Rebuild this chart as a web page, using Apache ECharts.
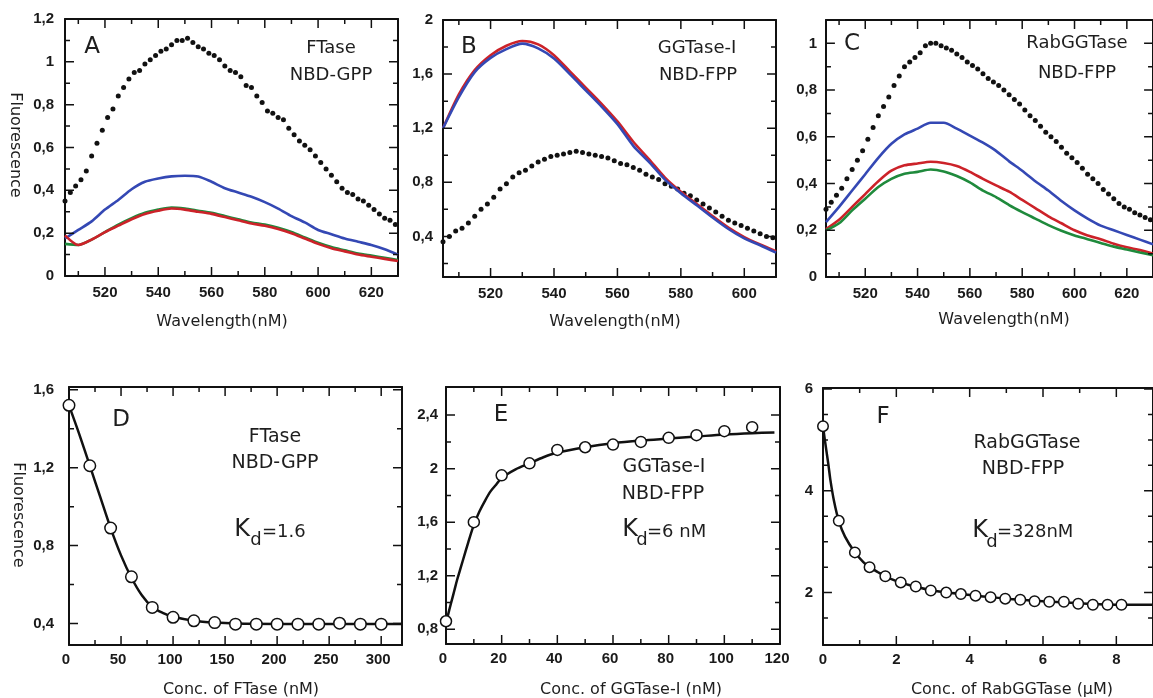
<!DOCTYPE html>
<html>
<head>
<meta charset="utf-8">
<script src="https://cdn.jsdelivr.net/npm/echarts@6/dist/echarts.min.js"></script>
<style>
  html, body { margin: 0; padding: 0; background: #fff; }
  #chart { width: 1153px; height: 698px; }
</style>
</head>
<body>
<div id="chart"></div>
<script>
// ---- data ----
// emission spectra, dotted series sampled every 2 nm
const dotWaveAC = [505,507,509,511,513,515,517,519,521,523,525,527,529,531,533,535,537,539,541,543,545,547,549,551,553,555,557,559,561,563,565,567,569,571,573,575,577,579,581,583,585,587,589,591,593,595,597,599,601,603,605,607,609,611,613,615,617,619,621,623,625,627,629];
const dotWaveB = [505,507,509,511,513,515,517,519,521,523,525,527,529,531,533,535,537,539,541,543,545,547,549,551,553,555,557,559,561,563,565,567,569,571,573,575,577,579,581,583,585,587,589,591,593,595,597,599,601,603,605,607,609];
const lineWaveAC = [505,510,515,520,525,530,535,540,545,550,555,560,565,570,575,580,585,590,595,600,605,610,615,620,625,630];
const lineWaveB = [505,510,515,520,525,530,535,540,545,550,555,560,565,570,575,580,585,590,595,600,605,610];

// A: FTase / NBD-GPP
const aBlack = [0.35,0.39,0.42,0.45,0.49,0.56,0.62,0.68,0.74,0.78,0.84,0.88,0.92,0.95,0.96,0.99,1.01,1.03,1.05,1.06,1.08,1.10,1.10,1.11,1.09,1.07,1.06,1.04,1.03,1.01,0.98,0.96,0.95,0.93,0.89,0.88,0.84,0.81,0.77,0.76,0.74,0.73,0.69,0.66,0.63,0.61,0.59,0.56,0.53,0.50,0.47,0.44,0.41,0.39,0.38,0.36,0.35,0.33,0.31,0.29,0.27,0.26,0.24];
const aBlue = [0.175,0.215,0.255,0.31,0.355,0.405,0.44,0.455,0.465,0.468,0.465,0.44,0.41,0.39,0.37,0.345,0.315,0.28,0.25,0.215,0.195,0.175,0.16,0.145,0.125,0.1];
const aGreen = [0.15,0.145,0.17,0.205,0.24,0.27,0.295,0.31,0.32,0.315,0.305,0.295,0.28,0.265,0.25,0.24,0.225,0.205,0.18,0.155,0.135,0.12,0.105,0.095,0.085,0.075];
const aRed = [0.19,0.145,0.17,0.205,0.235,0.265,0.29,0.305,0.315,0.31,0.3,0.29,0.275,0.26,0.245,0.235,0.22,0.2,0.175,0.15,0.13,0.115,0.1,0.09,0.08,0.07];

// B: GGTase-I / NBD-FPP
const bBlack = [0.36,0.40,0.44,0.46,0.50,0.55,0.60,0.64,0.69,0.75,0.79,0.84,0.87,0.89,0.92,0.95,0.97,0.99,1.00,1.01,1.02,1.03,1.02,1.01,1.00,0.99,0.98,0.96,0.94,0.93,0.91,0.89,0.86,0.84,0.82,0.79,0.77,0.75,0.72,0.70,0.67,0.64,0.61,0.58,0.55,0.52,0.50,0.48,0.46,0.44,0.42,0.40,0.39];
const bRed = [1.2,1.45,1.63,1.74,1.81,1.845,1.82,1.74,1.62,1.5,1.38,1.25,1.1,0.97,0.835,0.73,0.64,0.55,0.465,0.395,0.34,0.29];
const bBlue = [1.2,1.43,1.615,1.72,1.785,1.825,1.79,1.715,1.6,1.48,1.36,1.23,1.07,0.95,0.82,0.72,0.63,0.54,0.455,0.385,0.335,0.28];

// C: RabGGTase / NBD-FPP
const cBlack = [0.29,0.32,0.35,0.38,0.42,0.46,0.50,0.54,0.59,0.64,0.69,0.73,0.77,0.82,0.86,0.90,0.92,0.94,0.96,0.99,1.00,1.00,0.99,0.98,0.97,0.955,0.94,0.92,0.905,0.89,0.87,0.85,0.835,0.82,0.80,0.78,0.76,0.74,0.715,0.69,0.67,0.645,0.62,0.60,0.58,0.555,0.53,0.51,0.49,0.465,0.44,0.42,0.40,0.375,0.355,0.335,0.315,0.30,0.29,0.275,0.265,0.255,0.245];
const cBlue = [0.235,0.30,0.37,0.44,0.51,0.57,0.61,0.635,0.66,0.66,0.635,0.605,0.575,0.54,0.495,0.455,0.41,0.37,0.325,0.285,0.25,0.22,0.2,0.18,0.16,0.14];
const cRed = [0.205,0.245,0.30,0.355,0.41,0.455,0.478,0.486,0.493,0.488,0.475,0.45,0.42,0.392,0.365,0.33,0.295,0.26,0.23,0.2,0.178,0.162,0.142,0.127,0.115,0.1];
const cGreen = [0.2,0.23,0.285,0.335,0.385,0.42,0.442,0.45,0.46,0.452,0.432,0.405,0.37,0.342,0.308,0.278,0.25,0.222,0.198,0.178,0.162,0.146,0.13,0.118,0.105,0.093];

// D: titration FTase (nM)
const concD = [0,20,40,60,80,100,120,140,160,180,200,220,240,260,280,300];
const fluorD = [1.52,1.21,0.89,0.64,0.483,0.432,0.414,0.405,0.397,0.397,0.397,0.397,0.397,0.402,0.397,0.397];
const fitDx = [0,10,20,30,40,50,60,70,80,90,100,120,140,160,200,240,280,320];
const fitDy = [1.52,1.37,1.21,1.05,0.89,0.75,0.635,0.545,0.485,0.455,0.435,0.415,0.405,0.4,0.398,0.398,0.398,0.398];

// E: titration GGTase-I (nM)
const concE = [0,10,20,30,40,50,60,70,80,90,100,110];
const fluorE = [0.86,1.60,1.95,2.04,2.14,2.16,2.18,2.20,2.23,2.25,2.28,2.31];
const fitEx = [0,1,2,3,4,5,6,8,10,12,14,16,18,20,25,30,35,40,50,60,70,80,90,100,110,118];
const fitEy = [0.84,0.93,1.01,1.09,1.17,1.24,1.31,1.45,1.58,1.68,1.76,1.83,1.88,1.93,1.995,2.04,2.085,2.12,2.16,2.19,2.21,2.225,2.24,2.255,2.265,2.27];

// F: titration RabGGTase (uM)
const concF = [0,0.43,0.87,1.27,1.7,2.12,2.53,2.94,3.36,3.76,4.16,4.57,4.97,5.38,5.77,6.17,6.57,6.96,7.36,7.76,8.14];
const fluorF = [5.27,3.41,2.79,2.50,2.32,2.20,2.12,2.04,2.00,1.97,1.94,1.91,1.88,1.86,1.83,1.82,1.82,1.78,1.76,1.76,1.76];
const fitFx = [0,0.05,0.1,0.15,0.2,0.3,0.43,0.6,0.87,1.1,1.27,1.5,1.7,2.1,2.5,3.0,3.4,4.2,5.0,6.0,7.0,8.14,9.0];
const fitFy = [5.27,5.0,4.75,4.5,4.22,3.8,3.41,3.1,2.79,2.6,2.5,2.4,2.32,2.2,2.12,2.04,2.0,1.94,1.88,1.83,1.79,1.76,1.76];

// tick values (labelled = major)
const ticksWaveAC = [520,540,560,580,600,620], minorWaveAC = [510,530,550,570,590,610];
const ticksWaveB = [520,540,560,580,600], minorWaveB = [510,530,550,570,590];
const ticksA_y = [0,0.2,0.4,0.6,0.8,1.0,1.2], minorA_y = [0.1,0.3,0.5,0.7,0.9,1.1];
const ticksB_y = [0.4,0.8,1.2,1.6,2.0], minorB_y = [0.2,0.6,1.0,1.4,1.8];
const ticksC_y = [0,0.2,0.4,0.6,0.8,1.0], minorC_y = [0.1,0.3,0.5,0.7,0.9];
const ticksD_x = [0,50,100,150,200,250,300], minorD_x = [25,75,125,175,225,275];
const ticksD_y = [0.4,0.8,1.2,1.6], minorD_y = [0.6,1.0,1.4];
const ticksE_x = [0,20,40,60,80,100,120], minorE_x = [10,30,50,70,90,110];
const ticksE_y = [0.8,1.2,1.6,2.0,2.4], minorE_y = [1.0,1.4,1.8,2.2];
const ticksF_x = [0,2,4,6,8], minorF_x = [1,3,5,7];
const ticksF_y = [2,4,6], minorF_y = [1.5,2.5,3,3.5,4.5,5,5.5];

// ---- chart ----
const zip = (xs, ys) => xs.map((x, i) => [x, ys[i]]);
const comma = v => String(Math.round(v * 10) / 10).replace('.', ',');
const intFmt = v => String(Math.round(v));
const INK = '#111';

const grids = [
  { left: 65,  top: 19,  width: 333, height: 257 },
  { left: 443, top: 20,  width: 333, height: 257 },
  { left: 826, top: 20,  width: 330, height: 257 },
  { left: 69,  top: 387, width: 333, height: 258 },
  { left: 446, top: 387, width: 334, height: 257 },
  { left: 823, top: 388, width: 332, height: 257 }
];

const panels = [
  { x: { min: 505, max: 630, major: ticksWaveAC, minor: minorWaveAC, fmt: intFmt, margin: 9 },
    y: { min: 0, max: 1.2, major: ticksA_y, minor: minorA_y, fmt: comma, margin: 11 } },
  { x: { min: 505, max: 610, major: ticksWaveB, minor: minorWaveB, fmt: intFmt, margin: 9 },
    y: { min: 0.1, max: 2.0, major: ticksB_y, minor: minorB_y, fmt: comma, margin: 10 } },
  { x: { min: 505, max: 630, major: ticksWaveAC, minor: minorWaveAC, fmt: intFmt, margin: 9 },
    y: { min: 0, max: 1.1, major: ticksC_y, minor: minorC_y, fmt: comma, margin: 9 } },
  { x: { min: 0, max: 320, major: ticksD_x, minor: minorD_x, fmt: intFmt, margin: 7, pad: [0, 6, 0, 0] },
    y: { min: 0.29, max: 1.614, major: ticksD_y, minor: minorD_y, fmt: comma, margin: 15 } },
  { x: { min: 0, max: 120, major: ticksE_x, minor: minorE_x, fmt: intFmt, margin: 7, pad: [0, 6, 0, 0] },
    y: { min: 0.69, max: 2.61, major: ticksE_y, minor: minorE_y, fmt: comma, margin: 8 } },
  { x: { min: 0, max: 9, major: ticksF_x, minor: minorF_x, fmt: intFmt, margin: 7 },
    y: { min: 0.97, max: 6.02, major: ticksF_y, minor: minorF_y, fmt: comma, margin: 10 } }
];

// labelled axis (bottom / left) plus a bare one on the opposite side; their lines form the box
const xAxes = [], yAxes = [];
const frameLine = { show: true, onZero: false, lineStyle: { color: INK, width: 2 } };
function addAxes(list, dim, gi, c) {
  const pos = dim === 'x' ? ['bottom', 'top'] : ['left', 'right'];
  const base = { type: 'value', gridIndex: gi, min: c.min, max: c.max, splitLine: { show: false },
    axisLine: frameLine, axisTick: { show: false } };
  const idx = list.length;
  list.push(Object.assign({}, base, {
    position: pos[0],
    axisLabel: { show: true, customValues: c.major, formatter: c.fmt, margin: c.margin, padding: c.pad || 0,
      color: '#1a1a1a', fontFamily: 'Liberation Sans, Arial', fontWeight: 'bold', fontSize: 15 }
  }));
  list.push(Object.assign({}, base, { position: pos[1], axisLabel: { show: false } }));
  return idx;
}
const axIdx = panels.map((p, gi) => ({ x: addAxes(xAxes, 'x', gi, p.x), y: addAxes(yAxes, 'y', gi, p.y) }));

// inward tick marks on all four sides, drawn as short broken line segments on the panel's scales
function tickLines(gi) {
  const p = panels[gi], g = grids[gi];
  const kx = (p.x.max - p.x.min) / g.width, ky = (p.y.max - p.y.min) / g.height;
  const data = [];
  const seg = (a, b) => { data.push(a, b, ['-', '-']); };
  const addX = (vals, len) => vals.forEach(v => {
    seg([v, p.y.min], [v, p.y.min + len * ky]);
    seg([v, p.y.max], [v, p.y.max - len * ky]);
  });
  const addY = (vals, len) => vals.forEach(v => {
    seg([p.x.min, v], [p.x.min + len * kx, v]);
    seg([p.x.max, v], [p.x.max - len * kx, v]);
  });
  addX(p.x.major, 9); addX(p.x.minor, 5);
  addY(p.y.major, 9); addY(p.y.minor, 5);
  return { type: 'line', xAxisIndex: axIdx[gi].x, yAxisIndex: axIdx[gi].y, data: data,
    symbol: 'none', showSymbol: false, connectNulls: false, clip: false, silent: true, z: 3,
    lineStyle: { color: INK, width: 1.5 } };
}

const BLUE = '#3448b4', RED = '#cc2229', GREEN = '#1f8a3c';
function spectrum(gi, xs, ys, color) {
  return { type: 'line', xAxisIndex: axIdx[gi].x, yAxisIndex: axIdx[gi].y, data: zip(xs, ys),
    symbol: 'none', smooth: 0.25, lineStyle: { color: color, width: 2.6 } };
}
function dots(gi, xs, ys) {
  return { type: 'scatter', xAxisIndex: axIdx[gi].x, yAxisIndex: axIdx[gi].y, data: zip(xs, ys),
    symbolSize: 5, itemStyle: { color: INK, opacity: 1 } };
}
function fit(gi, xs, ys) {
  return { type: 'line', xAxisIndex: axIdx[gi].x, yAxisIndex: axIdx[gi].y, data: zip(xs, ys),
    symbol: 'none', smooth: 0.3, lineStyle: { color: INK, width: 2.5 } };
}
function points(gi, xs, ys, size) {
  return { type: 'scatter', xAxisIndex: axIdx[gi].x, yAxisIndex: axIdx[gi].y, data: zip(xs, ys), clip: false,
    symbol: 'circle', symbolSize: size, itemStyle: { color: '#fff', opacity: 1, borderColor: INK, borderWidth: 1.5 }, z: 5 };
}

const series = [
  spectrum(0, lineWaveAC, aBlue, BLUE), spectrum(0, lineWaveAC, aGreen, GREEN), spectrum(0, lineWaveAC, aRed, RED), dots(0, dotWaveAC, aBlack),
  spectrum(1, lineWaveB, bRed, RED), spectrum(1, lineWaveB, bBlue, BLUE), dots(1, dotWaveB, bBlack),
  spectrum(2, lineWaveAC, cBlue, BLUE), spectrum(2, lineWaveAC, cRed, RED), spectrum(2, lineWaveAC, cGreen, GREEN), dots(2, dotWaveAC, cBlack),
  fit(3, fitDx, fitDy), points(3, concD, fluorD, 11.5),
  fit(4, fitEx, fitEy), points(4, concE, fluorE, 11),
  fit(5, fitFx, fitFy), points(5, concF, fluorF, 10.5)
].concat(panels.map((p, gi) => tickLines(gi)));

const SANS = 'DejaVu Sans, Verdana, sans-serif';
function label(x, y, text, size, opts) {
  return Object.assign({ type: 'text', x: x, y: y, silent: true,
    style: { text: text, font: size + 'px ' + SANS, fill: '#1e1e1e', align: 'center', verticalAlign: 'middle' } }, opts || {});
}
function leftLabel(x, y, text, size) {
  const el = label(x, y, text, size);
  el.style.align = 'left';
  return el;
}

const texts = [
  // panel letters
  label(92, 47, 'A', 23), label(469, 47, 'B', 23), label(852, 44, 'C', 23),
  label(121, 420, 'D', 23), label(501, 415, 'E', 23), label(883, 417, 'F', 23),
  // enzyme / probe
  label(331, 48, 'FTase', 18), label(331, 75, 'NBD-GPP', 18),
  label(697, 48, 'GGTase-I', 18), label(698, 75, 'NBD-FPP', 18),
  label(1077, 43, 'RabGGTase', 18), label(1077, 73, 'NBD-FPP', 18),
  label(275, 437, 'FTase', 19), label(275, 463, 'NBD-GPP', 19),
  label(664, 467, 'GGTase-I', 19), label(663, 494, 'NBD-FPP', 19),
  label(1027, 443, 'RabGGTase', 19), label(1023, 469, 'NBD-FPP', 19),
  // dissociation constants
  label(242, 530, 'K', 24), label(256, 540, 'd', 18), leftLabel(262, 532, '=1.6', 18),
  label(630, 530, 'K', 24), label(642, 540, 'd', 18), leftLabel(647, 532, '=6 nM', 18),
  label(980, 531, 'K', 24), label(992, 542, 'd', 18), leftLabel(997, 532, '=328nM', 18),
  // axis titles
  label(15, 145, 'Fluorescence', 16, { rotation: -Math.PI / 2 }),
  label(18, 515, 'Fluorescence', 16, { rotation: -Math.PI / 2 }),
  label(222, 322, 'Wavelength(nM)', 16), label(615, 322, 'Wavelength(nM)', 16), label(1004, 320, 'Wavelength(nM)', 16),
  label(241, 690, 'Conc. of FTase (nM)', 16), label(631, 690, 'Conc. of GGTase-I (nM)', 16),
  label(1012, 690, 'Conc. of RabGGTase (\u00b5M)', 16)
];

const chart = echarts.init(document.getElementById('chart'), null, { renderer: 'canvas' });
chart.setOption({
  animation: false,
  backgroundColor: '#fff',
  grid: grids,
  xAxis: xAxes,
  yAxis: yAxes,
  series: series,
  graphic: { elements: texts }
});
</script>
</body>
</html>
